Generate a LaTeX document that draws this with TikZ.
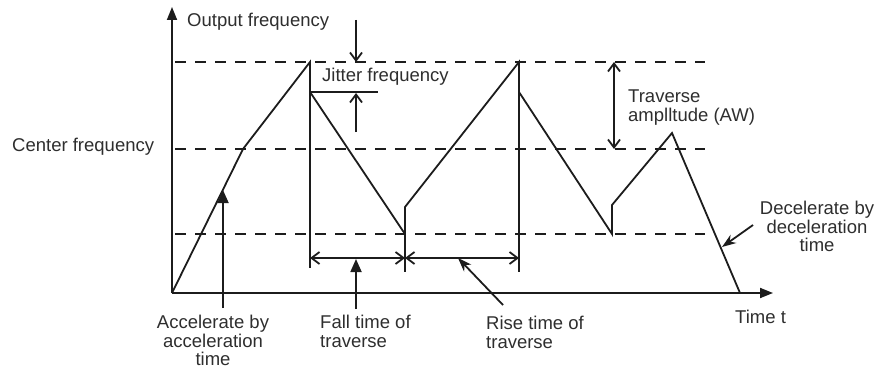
\documentclass[tikz,border=0pt]{standalone}
\usepackage{fontspec}
\setmainfont{Liberation Sans}
\usetikzlibrary{arrows.meta, positioning, calc}
\definecolor{inkline}{HTML}{1C1C1C}
\definecolor{inktext}{HTML}{2E2E2E}

\begin{document}
\begin{tikzpicture}[x=1pt, y=-1pt,
    % ── Line styles ──────────────────────────────────────────────────────
    axisline/.style={
        line width=1.8pt, draw=inkline,
        -{Triangle[length=13pt, width=10pt]}
    },
    trace/.style={line width=1.8pt, draw=inkline, line join=miter},
    level/.style={
        line width=1.8pt, draw=inkline,
        dash pattern=on 11pt off 9pt
    },
    guide/.style={line width=1.8pt, draw=inkline},
    % ── Arrow styles ─────────────────────────────────────────────────────
    openarr/.style={
        line width=1.8pt, draw=inkline,
        -{Straight Barb[length=8pt, width=12pt]}
    },
    dimarr/.style={
        line width=1.8pt, draw=inkline,
        {Straight Barb[length=8pt, width=12pt]}-{Straight Barb[length=8pt, width=12pt]}
    },
    pointer/.style={
        line width=1.8pt, draw=inkline,
        -{Triangle[length=13pt, width=11pt]}
    },
    slantptr/.style={
        line width=1.8pt, draw=inkline,
        -{Stealth[length=14pt, width=10pt]}
    },
    % ── Text styles ──────────────────────────────────────────────────────
    lbl/.style={
        font=\fontsize{18.5}{18.5}\selectfont,
        text=inktext, inner sep=0pt, align=left
    },
    lblc/.style={lbl, align=center}
]
\useasboundingbox (0,0) rectangle (877,369);

% ═══════════════════════════════════════════════════════════════════════════
% 1. Axes and frequency levels
% ═══════════════════════════════════════════════════════════════════════════
\coordinate (origin) at (172,293);
\coordinate (ytip)   at (172,7);
\coordinate (xtip)   at (773,293);

\draw[axisline] (origin) -- (ytip);
\draw[axisline] (origin) -- (xtip);

\coordinate (hiL)  at (175,62);   \coordinate (hiR)  at (705,62);
\coordinate (midL) at (175,149);  \coordinate (midR) at (705,149);
\coordinate (loL)  at (175,234);  \coordinate (loR)  at (705,234);

\draw[level] (hiL)  -- (hiR);
\draw[level] (midL) -- (midR);
\draw[level] (loL)  -- (loR);

% ═══════════════════════════════════════════════════════════════════════════
% 2. Frequency trace
% ═══════════════════════════════════════════════════════════════════════════
\coordinate (acc)   at (243,149);
\coordinate (peakA) at (310,62);
\coordinate (jumpA) at (310,92);
\coordinate (lowA)  at (405,234);
\coordinate (jumpB) at (405,207);
\coordinate (peakB) at (519,62);
\coordinate (jumpC) at (519,92);
\coordinate (lowB)  at (612,234);
\coordinate (jumpD) at (612,205);
\coordinate (peakC) at (672,133);
\coordinate (stop)  at (740,293);

\draw[trace] (origin) -- (acc) -- (peakA) -- (jumpA) -- (lowA) -- (jumpB)
    -- (peakB) -- (jumpC) -- (lowB) -- (jumpD) -- (peakC) -- (stop);

% Extension lines below the trace
\coordinate (extA) at (310,268);
\coordinate (extB) at (405,272);
\coordinate (extC) at (519,272);
\draw[guide] (jumpA) -- (extA);
\draw[guide] (lowA)  -- (extB);
\draw[guide] (jumpC) -- (extC);

% ═══════════════════════════════════════════════════════════════════════════
% 3. Jitter frequency and traverse amplitude
% ═══════════════════════════════════════════════════════════════════════════
\coordinate (jitEnd)  at (378,92);
\draw[guide] (jumpA) -- (jitEnd);

\coordinate (jitTop)  at (356,20);
\coordinate (jitHi)   at (356,62);
\coordinate (jitBot)  at (356,132);
\coordinate (jitLo)   at (356,93);
\draw[openarr] (jitTop) -- (jitHi);
\draw[openarr] (jitBot) -- (jitLo);

\coordinate (awTop) at (614,62);
\coordinate (awBot) at (614,149);
\draw[dimarr] (awTop) -- (awBot);

% ═══════════════════════════════════════════════════════════════════════════
% 4. Traverse time spans
% ═══════════════════════════════════════════════════════════════════════════
\coordinate (spanA) at (310,258);
\coordinate (spanB) at (405,258);
\coordinate (spanC) at (519,258);
\draw[dimarr] (spanA) -- (spanB);
\draw[dimarr] (spanB) -- (spanC);

% ═══════════════════════════════════════════════════════════════════════════
% 5. Labels
% ═══════════════════════════════════════════════════════════════════════════
\node[lbl, anchor=west] (outlbl) at (187,22)  {Output frequency};
\node[lbl, anchor=west] (ctrlbl) at (12,147)  {Center frequency};
\node[lbl, anchor=west] (jitlbl) at (322,77)  {Jitter frequency};
\node[lbl, anchor=north west] (awlbl) at (628,90)
    {Traverse\\amplltude (AW)};

\node[lblc, anchor=north] (acclbl)  at (213,315) {Accelerate by\\acceleration\\time};
\node[lbl,  anchor=north west] (falllbl) at (320,315) {Fall time of\\traverse};
\node[lbl,  anchor=north west] (riselbl) at (486,316) {Rise time of\\traverse};
\node[lblc, anchor=north] (declbl)  at (817,201) {Decelerate by\\deceleration\\time};
\node[lbl,  anchor=west] (timelbl) at (735,317) {Time t};

% Pointers from labels
\coordinate (accTail)  at (223,308);
\coordinate (accHead)  at (223,190);
\coordinate (fallTail) at (356,309);
\coordinate (fallHead) at (356,259);
\coordinate (riseTail) at (503,305);
\coordinate (riseHead) at (458,258);
\coordinate (decTail)  at (753,225);
\coordinate (decHead)  at (722,247);

\draw[pointer]  (accTail)  -- (accHead);
\draw[pointer]  (fallTail) -- (fallHead);
\draw[slantptr] (riseTail) -- (riseHead);
\draw[slantptr] (decTail)  -- (decHead);

\end{tikzpicture}
\end{document}
